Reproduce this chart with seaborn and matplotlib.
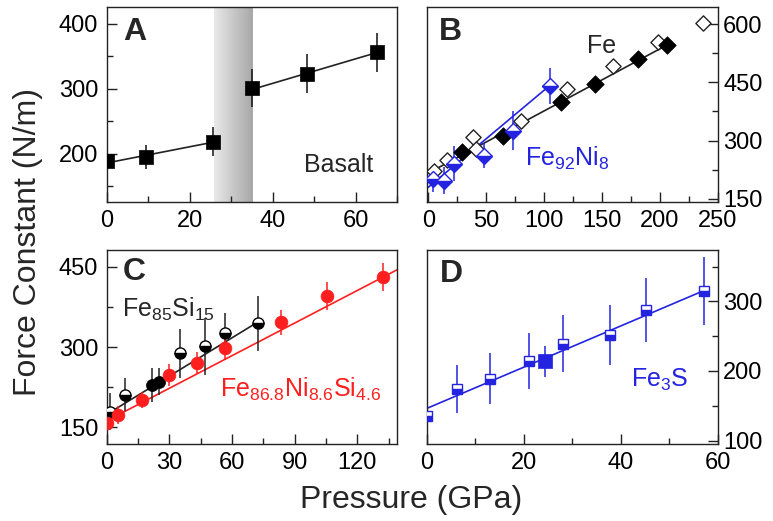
import numpy as np
import matplotlib
matplotlib.use("Agg")
import matplotlib.pyplot as plt
import seaborn as sns
from matplotlib.colors import LinearSegmentedColormap
from matplotlib.ticker import MultipleLocator

# Panel A: basalt
basalt_p = [0, 9.4, 25.7, 35.0, 48.2, 65.2]
basalt_k = [189, 195, 219, 301, 323, 356]
basalt_err = [0, 18, 22, 29, 30, 30]
basalt_fit_lo_p = [0, 25.7]
basalt_fit_lo_k = [186, 218]
basalt_fit_hi_p = [35.0, 65.2]
basalt_fit_hi_k = [299, 356]
transition_p = [25.8, 35.0]

# Panel B: Fe and Fe92Ni8
fe_p = [29.2, 64.4, 114.4, 144, 181.5, 206]
fe_k = [270, 313, 399, 446, 510, 546]
fe_open_p = [5.2, 15.9, 38.4, 41.3, 80, 119.6, 159.9, 198.8, 237.7]
fe_open_k = [223, 249, 309, 279, 351, 433, 493, 553, 604]
fe_fit_p = [-1.6, 210]
fe_fit_k = [214, 552]
feni_p = [3.8, 13.8, 22.5, 48.4, 73.0, 105.0]
feni_k = [201, 197, 240, 261, 326, 441]
feni_err = [34, 34, 45, 32, 51, 47]
feni_fit_p = [-1.6, 107]
feni_fit_k = [176, 447]

# Panel C: Fe85Si15 and Fe86.8Ni8.6Si4.6
fesi_p = [1.8, 8.9, 35.3, 47.2, 56.8, 72.7]
fesi_k = [179.5, 211, 288, 301, 326, 344]
fesi_err = [35, 31, 46, 54, 38, 51]
fesi_solid_p = [21.7, 24.9]
fesi_solid_k = [229, 235]
fesi_solid_err = [31, 25]
fesi_fit_p = [0, 73]
fesi_fit_k = [174, 348]
fenisi_p = [0, 5.7, 16.9, 29.7, 43.2, 56.8, 83.6, 105.7, 132.5]
fenisi_k = [158, 173, 201, 248, 270, 298, 346, 395, 430]
fenisi_err = [8, 17, 15, 20, 21, 23, 23, 26, 26]
fenisi_fit_p = [0, 139]
fenisi_fit_k = [162, 444]

# Panel D: Fe3S
fe3s_p = [0, 6.2, 13.1, 21.2, 28.1, 37.9, 45.3, 57.3]
fe3s_k = [135, 174, 189, 214, 239, 252, 288, 315]
fe3s_err = [20, 35, 37, 40, 41, 43, 46, 49]
fe3s_solid_p = [24.4]
fe3s_solid_k = [214]
fe3s_solid_err = [22]
fe3s_fit_p = [0, 58]
fe3s_fit_k = [146, 318]

BLUE = "#2323e0"
RED = "#ff1f1f"

sns.set_theme(style="ticks")
plt.rcParams["font.family"] = ["Liberation Sans", "DejaVu Sans"]
plt.rcParams["mathtext.fontset"] = "custom"
plt.rcParams["mathtext.rm"] = "Liberation Sans"
plt.rcParams["axes.linewidth"] = 1.0
plt.rcParams["axes.edgecolor"] = "#222222"
plt.rcParams["xtick.direction"] = "in"
plt.rcParams["ytick.direction"] = "in"

fig = plt.figure(figsize=(7.73, 5.21), dpi=100)


def make_axes(l, t, r, b):
    return fig.add_axes([l / 773, 1 - b / 521, (r - l) / 773, (b - t) / 521])


axA = make_axes(106.5, 7, 397, 202)
axB = make_axes(426.5, 7, 717.5, 202)
axC = make_axes(106.5, 250, 397, 444)
axD = make_axes(426.5, 250, 717.5, 444)


def style_axes(ax, right=False):
    ax.tick_params(which="both", direction="in", width=1, color="#222222",
                   labelsize=17, labelcolor="black", bottom=True, top=False)
    ax.tick_params(which="major", length=7)
    ax.tick_params(which="minor", length=4.5)
    ax.tick_params(axis="x", pad=6)
    if right:
        ax.tick_params(axis="y", which="both", left=False, right=True,
                       labelleft=False, labelright=True, pad=4)
    else:
        ax.tick_params(axis="y", which="both", left=True, right=False, pad=6)
    ax.set_xlabel("")
    ax.set_ylabel("")
    ax.grid(False)


def errs(ax, x, y, e, color):
    ax.errorbar(x, y, yerr=e, fmt="none", ecolor=color, elinewidth=1.1, zorder=2)


def half_markers(ax, x, y, marker, color, size):
    ax.plot(x, y, ls="none", marker=marker, ms=size, fillstyle="bottom",
            markerfacecolor=color, markerfacecoloralt="white",
            markeredgecolor=color, mew=1, zorder=3)


# ---- Panel A ----
cmap = LinearSegmentedColormap.from_list("band", ["#e8e8e8", "#a8a8a8"])
axA.imshow(np.linspace(0, 1, 64)[None, :], cmap=cmap, aspect="auto",
           extent=[transition_p[0], transition_p[1], 126, 426], zorder=0)
sns.lineplot(x=basalt_fit_lo_p, y=basalt_fit_lo_k, color="#222222", lw=1.2, ax=axA)
sns.lineplot(x=basalt_fit_hi_p, y=basalt_fit_hi_k, color="#222222", lw=1.2, ax=axA)
errs(axA, basalt_p, basalt_k, basalt_err, "#111111")
sns.scatterplot(x=basalt_p, y=basalt_k, marker="s", s=95, color="black",
                edgecolor="black", linewidth=0.5, zorder=3, ax=axA)
axA.set_xlim(0, 70)
axA.set_ylim(126, 426)
axA.xaxis.set_major_locator(MultipleLocator(20))
axA.xaxis.set_minor_locator(MultipleLocator(10))
axA.yaxis.set_major_locator(MultipleLocator(100))
axA.yaxis.set_minor_locator(MultipleLocator(50))
axA.text(56, 172, "Basalt", fontsize=18, ha="center", va="baseline")
style_axes(axA)

# ---- Panel B ----
sns.lineplot(x=fe_fit_p, y=fe_fit_k, color="#222222", lw=1.2, ax=axB)
sns.lineplot(x=feni_fit_p, y=feni_fit_k, color=BLUE, lw=1.2, ax=axB)
sns.scatterplot(x=fe_open_p, y=fe_open_k, marker="D", s=60, color="white",
                edgecolor="#222222", linewidth=1, zorder=3, ax=axB)
sns.scatterplot(x=fe_p, y=fe_k, marker="D", s=80, color="black",
                edgecolor="black", linewidth=0.5, zorder=3, ax=axB)
errs(axB, feni_p, feni_k, feni_err, BLUE)
half_markers(axB, feni_p, feni_k, "D", BLUE, 8)
axB.set_xlim(-1.6, 250)
axB.set_ylim(142, 644)
axB.xaxis.set_major_locator(MultipleLocator(50))
axB.xaxis.set_minor_locator(MultipleLocator(25))
axB.yaxis.set_major_locator(MultipleLocator(150))
axB.yaxis.set_minor_locator(MultipleLocator(75))
axB.text(150, 525, "Fe", fontsize=18, ha="center", va="baseline")
axB.text(120, 235, r"$\mathregular{Fe_{92}Ni_{8}}$", fontsize=18, color=BLUE,
         ha="center", va="baseline")
style_axes(axB, right=True)

# ---- Panel C ----
sns.lineplot(x=fenisi_fit_p, y=fenisi_fit_k, color=RED, lw=1.2, ax=axC)
sns.lineplot(x=fesi_fit_p, y=fesi_fit_k, color="#222222", lw=1.2, ax=axC)
errs(axC, fesi_p, fesi_k, fesi_err, "#222222")
errs(axC, fesi_solid_p, fesi_solid_k, fesi_solid_err, "#222222")
errs(axC, fenisi_p, fenisi_k, fenisi_err, RED)
half_markers(axC, fesi_p, fesi_k, "o", "black", 8)
sns.scatterplot(x=fesi_solid_p, y=fesi_solid_k, marker="o", s=75, color="black",
                edgecolor="black", linewidth=0.5, zorder=3, ax=axC)
sns.scatterplot(x=fenisi_p, y=fenisi_k, marker="o", s=85, color=RED,
                edgecolor=RED, linewidth=0.5, zorder=4, ax=axC)
axC.set_xlim(0, 139)
axC.set_ylim(119, 481)
axC.xaxis.set_major_locator(MultipleLocator(30))
axC.xaxis.set_minor_locator(MultipleLocator(15))
axC.yaxis.set_major_locator(MultipleLocator(150))
axC.yaxis.set_minor_locator(MultipleLocator(75))
axC.text(29.8, 357, r"$\mathregular{Fe_{85}Si_{15}}$", fontsize=18,
         ha="center", va="baseline")
axC.text(92.9, 207, r"$\mathregular{Fe_{86.8}Ni_{8.6}Si_{4.6}}$", fontsize=18,
         color=RED, ha="center", va="baseline")
style_axes(axC)

# ---- Panel D ----
sns.lineplot(x=fe3s_fit_p, y=fe3s_fit_k, color=BLUE, lw=1.2, ax=axD)
errs(axD, fe3s_p, fe3s_k, fe3s_err, BLUE)
errs(axD, fe3s_solid_p, fe3s_solid_k, fe3s_solid_err, BLUE)
half_markers(axD, fe3s_p, fe3s_k, "s", BLUE, 7.5)
sns.scatterplot(x=fe3s_solid_p, y=fe3s_solid_k, marker="s", s=110, color=BLUE,
                edgecolor=BLUE, linewidth=0.5, zorder=3, ax=axD)
axD.set_xlim(0, 60)
axD.set_ylim(95, 374)
axD.xaxis.set_major_locator(MultipleLocator(20))
axD.xaxis.set_minor_locator(MultipleLocator(10))
axD.yaxis.set_major_locator(MultipleLocator(100))
axD.yaxis.set_minor_locator(MultipleLocator(50))
axD.text(48, 177.7, r"$\mathregular{Fe_{3}S}$", fontsize=18, color=BLUE,
         ha="center", va="baseline")
style_axes(axD, right=True)

# panel letters
for ax, letter, fx, fy in [(axA, "A", 0.098, 0.872), (axB, "B", 0.081, 0.872),
                           (axC, "C", 0.095, 0.887), (axD, "D", 0.084, 0.876)]:
    ax.text(fx, fy, letter, transform=ax.transAxes, fontsize=23,
            fontweight="bold", ha="center", va="center")

fig.text(28 / 773, 1 - 242 / 521, "Force Constant (N/m)", rotation=90,
         fontsize=23, ha="center", va="center")
fig.text(411 / 773, 1 - 500 / 521, "Pressure (GPa)", fontsize=23,
         ha="center", va="center")

fig.savefig("out.png", dpi=100)
